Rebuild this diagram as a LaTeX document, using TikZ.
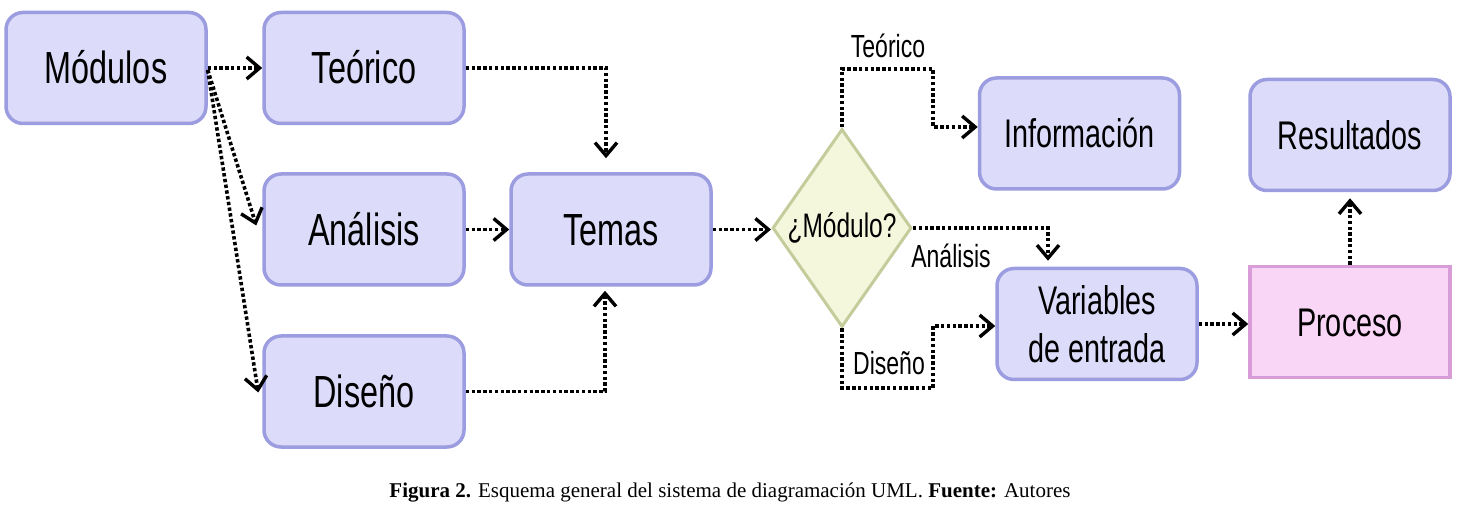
\documentclass[tikz,border=0pt]{standalone}
\usepackage{fontspec}
\newfontfamily\nar{Liberation Sans}[FakeStretch=0.72]
\newfontfamily\capfont{Liberation Serif}
\usetikzlibrary{arrows.meta,shapes.geometric}
\definecolor{bfill}{HTML}{DCDCFA}
\definecolor{bdraw}{HTML}{9C9CE0}
\definecolor{pfill}{HTML}{FAD6F6}
\definecolor{pdraw}{HTML}{D89CD8}
\definecolor{dfill}{HTML}{F4F7DC}
\definecolor{ddraw}{HTML}{C4CC9C}
\begin{document}
\begin{tikzpicture}[x=1pt,y=-1pt,
  box/.style={draw=bdraw,fill=bfill,line width=3.5pt,rounded corners=17pt,
    minimum width=200pt,minimum height=111pt,inner sep=0pt,
    font=\nar\fontsize{45}{54}\selectfont,text height=32pt,text depth=0pt},
  rbox/.style={box,font=\nar\fontsize{40}{48}\selectfont,text height=28.6pt},
  vbox/.style={draw=bdraw,fill=bfill,line width=3.5pt,rounded corners=17pt,
    minimum width=200pt,minimum height=111pt,inner sep=0pt,align=center,
    font=\nar\fontsize{40}{48}\selectfont},
  pbox/.style={rbox,draw=pdraw,fill=pfill,sharp corners},
  dia/.style={diamond,draw=ddraw,fill=dfill,line width=3pt,aspect=0.7,
    minimum width=139pt,minimum height=198pt,inner sep=0pt,
    font=\nar\fontsize{34}{40}\selectfont},
  lbl/.style={font=\nar\fontsize{32}{38}\selectfont,inner sep=0pt,anchor=base},
  conn/.style={draw,line width=3.6pt,dash pattern=on 3.4pt off 2.4pt,
    -{Straight Barb[length=13pt,width=22pt,line width=3.4pt]}}
]
\fill[white] (0,0) rectangle (1459,518);
\useasboundingbox (0,0) rectangle (1459,518);

\node[box] (mod) at (106,68) {Módulos};
\node[box] (teo) at (364,68) {Teórico};
\node[box] (ana) at (364,229.5) {Análisis};
\node[box] (dis) at (364,391.5) {Diseño};
\node[box] (tem) at (611,229.5) {Temas};
\node[dia] (dia) at (842,228) {¿Módulo?};
\node[rbox] (inf) at (1079.5,133.5) {Información};
\node[vbox] (var) at (1097,324) {Variables\\de entrada};
\node[pbox] (pro) at (1350,322) {Proceso};
\node[rbox] (res) at (1350,135) {Resultados};

\coordinate (t1) at (842,69);
\coordinate (t2) at (933,69);
\coordinate (t3) at (933,127);
\coordinate (d1) at (842,388);
\coordinate (d2) at (933,388);
\coordinate (d3) at (933,326);

\draw[conn] (mod.east) -- (teo.west);
\draw[conn] ([yshift=-2pt]mod.east) -- ([xshift=-6pt,yshift=4pt]ana.west);
\draw[conn] ([yshift=-2pt]mod.east) -- ([xshift=-4pt,yshift=-1pt]dis.west);
\draw[conn] (teo.east) -| ([xshift=-5pt,yshift=14pt]tem.north);
\draw[conn] (dis.east) -| ([xshift=-6pt,yshift=-4pt]tem.south);
\draw[conn] (ana.east) -- (tem.west);
\draw[conn] (tem.east) -- (tem.east -| dia.west);
\draw[conn] (dia.north) -- (t1) -- (t2) -- (t3) -- (t3 -| inf.west);
\draw[conn] (dia.east) -| ([xshift=-49pt,yshift=6pt]var.north);
\draw[conn] (dia.south) -- (d1) -- (d2) -- (d3) -- (d3 -| var.west);
\draw[conn] (var.east) -- (var.east -| pro.west);
\draw[conn] (pro.north) -- ([yshift=-6pt]res.south);

\node[lbl] (lt) at (888,58) {Teórico};
\node[lbl] (la) at (951,268) {Análisis};
\node[lbl] (ld) at (889,375) {Diseño};

\node[font=\capfont\fontsize{21}{25}\selectfont,anchor=base,inner sep=0pt] (cap) at (730,497)
  {\textbf{Figura 2.} Esquema general del sistema de diagramación UML. \textbf{Fuente:} Autores};
\end{tikzpicture}
\end{document}
